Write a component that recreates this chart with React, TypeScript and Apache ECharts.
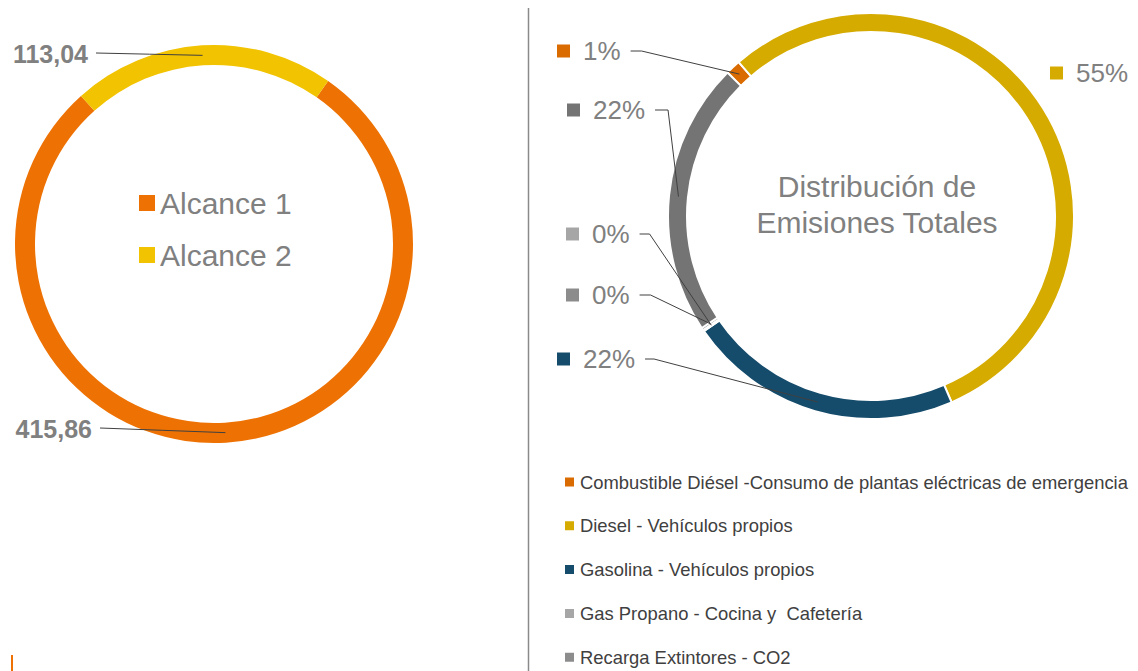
import React, { useEffect, useRef } from 'react';
import * as echarts from 'echarts';

// ---- data ----
const scopeNames = ['Alcance 1', 'Alcance 2'];
const scopeValues = [415.86, 113.04];
const scopeColors = ['#EE7203', '#F2C300'];

const sourceNames = [
  'Combustible Diésel -Consumo de plantas eléctricas de emergencia',
  'Diesel - Vehículos propios',
  'Gasolina - Vehículos propios',
  'Gas Propano - Cocina y  Cafetería',
  'Recarga Extintores - CO2',
  'Otras fuentes',
];
const sourceValues = [1.2, 54.8, 21.9, 0.1, 0.2, 21.8];
const sourceColors = ['#D96B00', '#D6AB00', '#154B6B', '#A6A6A6', '#8C8C8C', '#747474'];
const legendSources = sourceNames.slice(0, 5);

const titleLines = ['Distribución de', 'Emisiones Totales'];

// ---- layout ----
const FONT = '"Liberation Sans", Arial, sans-serif';
const L = { cx: 214, cy: 244, r0: 179, r1: 199, start: 55 };
const R = { cx: 871, cy: 216, r0: 184, r1: 203, start: 135 };
const leftLabelPos = [
  { x: 92, y: 429 },
  { x: 88, y: 54 },
];
const rightLabelPos = [
  { x: 557, y: 51, knee: 11, line: true },
  { x: 1050, y: 73, knee: 0, line: false },
  { x: 557, y: 359, knee: 9, line: true },
  { x: 566, y: 234, knee: 10, line: true },
  { x: 566, y: 295, knee: 11, line: true },
  { x: 567, y: 110, knee: 13, line: true },
];
const CLEAR = 'rgba(0,0,0,0)';

function midPoint(g: any, values: number[], i: number, r: number): number[] {
  const total = values.reduce((a, b) => a + b, 0);
  let cum = 0;
  for (let k = 0; k < i; k++) cum += values[k];
  const ang = ((g.start - ((cum + values[i] / 2) / total) * 360) * Math.PI) / 180;
  return [g.cx + r * Math.cos(ang), g.cy - r * Math.sin(ang)];
}

export default function App() {
  const ref = useRef<HTMLDivElement>(null);
  useEffect(() => {
    if (!ref.current) return;
    const chart = echarts.init(ref.current, null, { renderer: 'svg' });

    const rich: any = {
      sp: { width: 13, height: 13, verticalAlign: 'middle' },
      t: { fontSize: 26, color: '#808080', fontFamily: FONT, verticalAlign: 'middle' },
    };
    sourceColors.forEach((c, i) => {
      rich['s' + i] = { width: 13, height: 13, backgroundColor: c, verticalAlign: 'middle' };
    });

    const lineOpts = {
      show: true,
      minTurnAngle: 0,
      maxSurfaceAngle: 180,
      lineStyle: { color: '#404040', width: 1 },
    };

    const ringBase = {
      type: 'pie',
      clockwise: true,
      avoidLabelOverlap: false,
      silent: true,
      label: { show: false },
      labelLine: { show: false },
      z: 2,
    };

    chart.setOption({
      animation: false,
      legend: [
        {
          data: scopeNames,
          orient: 'vertical',
          left: 134,
          top: 183,
          itemWidth: 16,
          itemHeight: 16,
          itemGap: 22,
          icon: 'rect',
          selectedMode: false,
          textStyle: { fontSize: 30, color: '#808080', fontFamily: FONT },
        },
        {
          data: legendSources,
          orient: 'vertical',
          left: 563,
          top: 473,
          bottom: -80,
          padding: 0,
          itemWidth: 11,
          itemHeight: 11,
          itemGap: 25.8,
          icon: 'rect',
          selectedMode: false,
          textStyle: { fontSize: 18.4, color: '#404040', fontFamily: FONT },
        },
      ],
      graphic: [
        {
          type: 'line',
          shape: { x1: 528.5, y1: 8, x2: 528.5, y2: 671 },
          style: { stroke: '#8a8a8a', lineWidth: 1.5 },
          silent: true,
        },
        {
          type: 'rect',
          shape: { x: 11, y: 655, width: 2, height: 16 },
          style: { fill: '#EE7203' },
          silent: true,
        },
        {
          type: 'text',
          x: 877,
          y: 204,
          style: {
            text: titleLines.join('\n'),
            font: '30px ' + FONT,
            fill: '#808080',
            align: 'center',
            verticalAlign: 'middle',
            lineHeight: 36,
          },
          silent: true,
        },
      ],
      series: [
        // left ring
        {
          ...ringBase,
          center: [L.cx, L.cy],
          radius: [L.r0, L.r1],
          startAngle: L.start,
          itemStyle: { borderWidth: 0 },
          data: scopeNames.map((n, i) => ({
            name: n,
            value: scopeValues[i],
            itemStyle: { color: scopeColors[i] },
          })),
        },
        // right ring
        {
          ...ringBase,
          center: [R.cx, R.cy],
          radius: [R.r0, R.r1],
          startAngle: R.start,
          itemStyle: { borderColor: '#ffffff', borderWidth: 2 },
          data: sourceNames.map((n, i) => ({
            name: n,
            value: sourceValues[i],
            itemStyle: { color: sourceColors[i] },
          })),
        },
        // left labels (drawn above the ring)
        {
          type: 'pie',
          z: 5,
          center: [L.cx, L.cy],
          radius: [L.r0, L.r1],
          startAngle: L.start,
          clockwise: true,
          avoidLabelOverlap: false,
          silent: true,
          itemStyle: { color: CLEAR, borderWidth: 0 },
          label: {
            show: true,
            position: 'outside',
            fontSize: 25,
            fontWeight: 'bold',
            color: '#808080',
            fontFamily: FONT,
            formatter: (p: any) => p.value.toFixed(2).replace('.', ','),
          },
          labelLine: lineOpts,
          labelLayout: (p: any) => {
            const pos = leftLabelPos[p.dataIndex];
            const m = midPoint(L, scopeValues, p.dataIndex, (L.r0 + L.r1) / 2);
            const sx = pos.x + 8;
            const mx = (m[0] + sx) / 2;
            const my = (m[1] + pos.y - 1) / 2;
            return {
              x: pos.x,
              y: pos.y,
              align: 'right',
              verticalAlign: 'middle',
              labelLinePoints: [m, [mx, my], [sx, pos.y - 1]],
            };
          },
          data: scopeNames.map((n, i) => ({ name: n, value: scopeValues[i] })),
        },
        // right labels (drawn above the ring)
        {
          type: 'pie',
          z: 5,
          center: [R.cx, R.cy],
          radius: [R.r0, R.r1],
          startAngle: R.start,
          clockwise: true,
          avoidLabelOverlap: false,
          percentPrecision: 0,
          silent: true,
          itemStyle: { color: CLEAR, borderWidth: 0 },
          label: {
            show: true,
            position: 'outside',
            formatter: (p: any) => `{s${p.dataIndex}|}{sp|}{t|${p.percent}%}`,
            rich,
          },
          labelLine: lineOpts,
          labelLayout: (p: any) => {
            const i = p.dataIndex;
            const pos = rightLabelPos[i];
            const m = midPoint(R, sourceValues, i, (R.r0 + R.r1) / 2);
            const sx = pos.x + p.labelRect.width + 10;
            return {
              x: pos.x,
              y: pos.y,
              align: 'left',
              verticalAlign: 'middle',
              labelLinePoints: [m, [sx + pos.knee, pos.y], [sx, pos.y]],
            };
          },
          data: sourceNames.map((n, i) => ({
            name: n,
            value: sourceValues[i],
            labelLine: { show: rightLabelPos[i].line },
          })),
        },
      ],
    });
    return () => chart.dispose();
  }, []);
  return (
    <div
      ref={ref}
      style={{ position: 'fixed', left: 0, top: 0, width: 1138, height: 671, background: '#ffffff' }}
    />
  );
}
